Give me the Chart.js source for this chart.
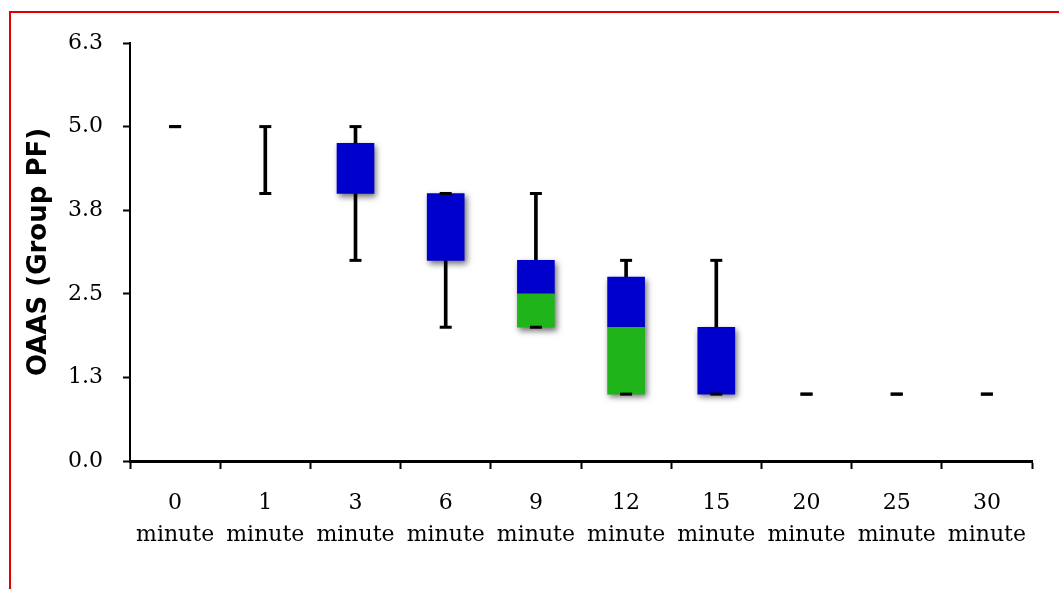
<!DOCTYPE html>
<html>
<head>
<meta charset="utf-8">
<script src="https://cdn.jsdelivr.net/npm/chart.js@4/dist/chart.umd.min.js"></script>
<style>
  body { margin: 0; background: #fff; overflow: hidden; }
  #frame { position: absolute; left: 9px; top: 11px; width: 1100px; height: 640px;
           border-left: 2px solid #e00000; border-top: 2px solid #e00000; }
  #oaas { position: absolute; left: 0; top: 0; }
</style>
</head>
<body>
<div id="frame"></div>
<canvas id="oaas" width="1059" height="589"></canvas>
<script>
// time points
var minutes = ['0', '1', '3', '6', '9', '12', '15', '20', '25', '30'];
// box plot values
var mins    = [5, 4, 3, 2, 2,   1,    1, 1, 1, 1];
var q1      = [5, 5, 4, 3, 2,   1,    1, 1, 1, 1];
var medians = [5, 5, 4, 3, 2.5, 2,    1, 1, 1, 1];
var q3      = [5, 5, 4.75, 4, 3, 2.75, 2, 1, 1, 1];
var maxs    = [5, 5, 5, 4, 4,   3,    3, 1, 1, 1];

var labels = minutes.map(function (m) { return [m, 'minute']; });

// floating bar [from, to]; nothing when the segment is empty
function pairs(a, b) {
    return a.map(function (v, i) { return v === b[i] ? null : [v, b[i]]; });
}

// drop shadow under the boxes
var shadowPlugin = {
    id: 'boxShadow',
    beforeDatasetDraw: function (chart, args) {
        var ds = chart.data.datasets[args.index];
        if (!ds.shadow) return;
        var ctx = chart.ctx;
        ctx.save();
        ctx.shadowColor = 'rgba(0,0,0,0.55)';
        ctx.shadowBlur = 6;
        ctx.shadowOffsetX = 2;
        ctx.shadowOffsetY = 3;
    },
    afterDatasetDraw: function (chart, args) {
        var ds = chart.data.datasets[args.index];
        if (!ds.shadow) return;
        chart.ctx.restore();
    }
};

var ctx = document.getElementById('oaas').getContext('2d');
var chart = new Chart(ctx, {
    type: 'bar',
    data: {
        labels: labels,
        datasets: [
            {
                // whisker line, behind the box
                label: 'whisker',
                data: pairs(mins, maxs),
                backgroundColor: '#000',
                barThickness: 3,
                grouped: false,
                order: 5
            },
            {
                label: 'median-Q3',
                data: pairs(medians, q3),
                backgroundColor: '#0000cc',
                barThickness: 37,
                grouped: false,
                shadow: true,
                order: 4
            },
            {
                label: 'Q1-median',
                data: pairs(q1, medians),
                backgroundColor: '#1fb51a',
                barThickness: 37,
                grouped: false,
                shadow: true,
                order: 3
            },
            {
                type: 'line',
                label: 'max',
                data: maxs,
                showLine: false,
                pointStyle: 'line',
                pointRadius: 6,
                pointBorderWidth: 3,
                pointBorderColor: '#000',
                order: 1
            },
            {
                type: 'line',
                label: 'min',
                data: mins,
                showLine: false,
                pointStyle: 'line',
                pointRadius: 6,
                pointBorderWidth: 3,
                pointBorderColor: '#000',
                order: 1
            }
        ]
    },
    options: {
        responsive: false,
        animation: false,
        layout: { padding: { top: 43, right: 27, bottom: 0, left: 0 } },
        plugins: {
            legend: { display: false },
            tooltip: { enabled: false }
        },
        scales: {
            x: {
                offset: true,
                grid: {
                    offset: true,
                    drawOnChartArea: false,
                    drawTicks: true,
                    tickLength: 8,
                    tickWidth: 2,
                    tickColor: '#000'
                },
                border: { display: true, color: '#000', width: 3 },
                ticks: {
                    color: '#000',
                    padding: 18,
                    maxRotation: 0,
                    autoSkip: false,
                    font: { family: 'DejaVu Serif', size: 22, lineHeight: 1.45 }
                },
                afterFit: function (scale) { scale.height = 128; }
            },
            y: {
                min: 0,
                max: 6.25,
                grid: {
                    drawOnChartArea: false,
                    drawTicks: true,
                    tickLength: 7,
                    tickWidth: 2,
                    tickColor: '#000'
                },
                border: { display: true, color: '#000', width: 2 },
                ticks: {
                    stepSize: 1.25,
                    color: '#000',
                    padding: 20,
                    font: { family: 'DejaVu Serif', size: 22 },
                    callback: function (v) { return v.toFixed(1); }
                },
                title: {
                    display: true,
                    text: 'OAAS (Group PF)',
                    color: '#000',
                    padding: { top: 24, bottom: 0 },
                    font: { family: 'DejaVu Sans', weight: 'bold', size: 26 }
                },
                afterFit: function (scale) { scale.width = 130; }
            }
        }
    },
    plugins: [shadowPlugin]
});
</script>
</body>
</html>
